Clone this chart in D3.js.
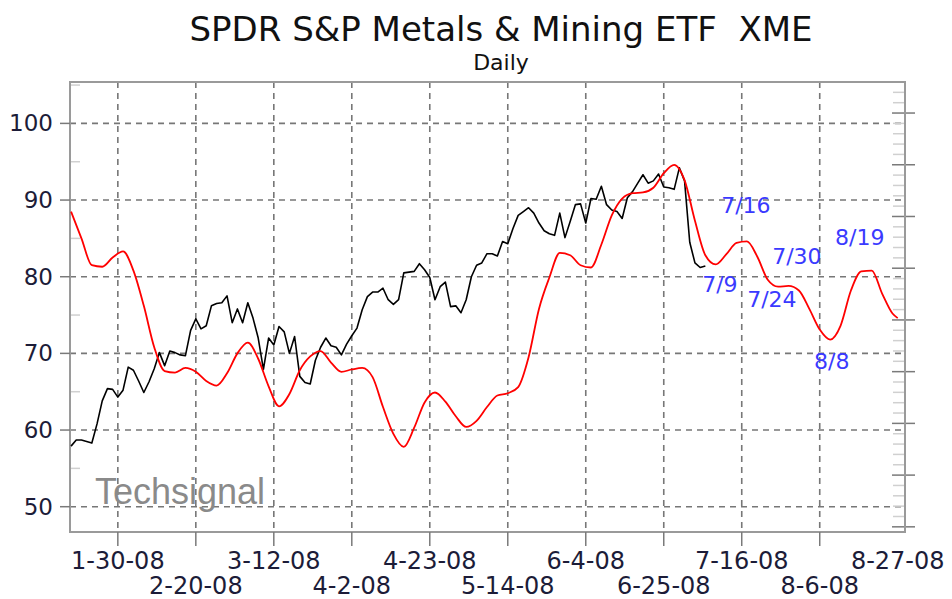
<!DOCTYPE html>
<html>
<head>
<meta charset="utf-8">
<script src="https://cdn.jsdelivr.net/npm/d3@7/dist/d3.min.js"></script>
<style>
  body { margin: 0; background: #fff; }
  text { font-family: "DejaVu Sans", Verdana, sans-serif; }
</style>
</head>
<body>
<script>
// XME daily close, one value per trading day (day 0 = mid Jan 2008)
var closeValues = [
  57.9, 58.7, 58.7, 58.5, 58.3, 60.8, 63.8, 65.4, 65.3, 64.3,
  65.2, 68.2, 67.8, 66.4, 64.9, 66.3, 68.0, 70.1, 68.4, 70.3,
  70.1, 69.8, 69.7, 73.0, 74.5, 73.2, 73.6, 76.2, 76.5, 76.6,
  77.5, 74.0, 75.8, 74.0, 76.6, 74.6, 72.0, 67.9, 72.0, 71.1,
  73.5, 72.8, 70.0, 72.2, 67.0, 66.2, 66.0, 69.1, 70.8, 72.0,
  71.0, 70.8, 69.8, 71.2, 72.3, 73.3, 75.7, 77.4, 78.0, 78.0,
  78.5, 77.0, 76.4, 77.0, 80.5, 80.6, 80.7, 81.7, 80.9, 79.9,
  77.0, 78.7, 79.3, 76.1, 76.2, 75.3, 77.0, 80.0, 81.5, 81.8,
  83.0, 83.0, 82.7, 84.6, 84.3, 86.3, 88.0, 88.5, 89.0, 88.3,
  87.0, 86.0, 85.6, 85.4, 88.3, 85.1, 87.2, 89.4, 89.5, 87.0,
  90.2, 90.1, 91.8, 89.4, 88.7, 88.5, 87.6, 90.3, 91.1, 92.2,
  93.3, 92.2, 92.5, 93.4, 91.7, 91.6, 91.4, 94.2, 92.5, 84.5,
  81.8, 81.2, 81.4
];

// cycle line (red), read every 2nd trading day
var cycleDays = [
  0, 2, 4, 6, 8, 10, 12, 14, 16, 18, 20, 22, 24, 26, 28, 30, 32, 34, 36, 38,
  40, 42, 44, 46, 48, 50, 52, 54, 56, 58, 60, 62, 64, 66, 68, 70, 72, 74, 76, 78,
  80, 82, 84, 86, 88, 90, 92, 94, 96, 98, 100, 102, 104, 106, 108, 110, 112, 114, 116, 118,
  120, 122, 124, 126, 128, 130, 132, 134, 136, 138, 140, 142, 144, 146, 148, 150, 152, 154, 156, 158, 159
];
var cycleValues = [
  88.5, 85.0, 81.5, 81.3, 82.5, 83.3, 80.8, 76.2, 70.8, 67.7, 67.5, 68.1, 67.6, 66.4, 65.8, 67.4, 70.0, 71.4, 69.3, 65.7,
  63.1, 64.7, 67.8, 69.6, 70.3, 68.8, 67.6, 67.9, 68.1, 66.9, 63.0, 59.5, 57.8, 60.3, 63.6, 64.9, 63.7, 61.8, 60.4, 61.2,
  63.0, 64.5, 64.8, 65.6, 69.5, 75.8, 79.9, 83.1, 82.8, 81.5, 81.2, 84.2, 88.0, 90.2, 90.9, 91.0, 91.6, 93.5, 94.6, 92.6,
  87.3, 82.8, 81.6, 82.9, 84.4, 84.6, 82.6, 79.6, 78.7, 78.8, 78.2, 75.8, 73.1, 71.8, 73.6, 78.2, 80.7, 80.8, 77.8, 75.2, 74.6
];

var tickDays   = [9, 24, 39, 54, 69, 84, 99, 114, 129, 144, 159];
var tickLabels = ["1-30-08", "2-20-08", "3-12-08", "4-2-08", "4-23-08", "5-14-08",
                  "6-4-08", "6-25-08", "7-16-08", "8-6-08", "8-27-08"];
var priceTicks = [50, 60, 70, 80, 90, 100];

// blue cycle date notes
var noteLabels = ["7/9", "7/16", "7/24", "7/30", "8/8", "8/19"];
var noteDays   = [124.8, 129.8, 134.8, 139.6, 146.3, 151.7];
var notePrices = [78.0, 88.3, 76.1, 81.6, 67.9, 84.2];

var W = 952, H = 599;
var plot = {left: 70, right: 905, top: 82, bottom: 532};

var svg = d3.select("body").append("svg")
    .attr("width", W)
    .attr("height", H);

var x = d3.scaleLinear().domain([-0.2, 160.4]).range([plot.left, plot.right]);
var y = d3.scaleLinear().domain([46.7, 105.4]).range([plot.bottom, plot.top]);
// unlabelled scale on the right side
var yRight = d3.scaleLinear().domain([-4.1, 4.6]).range([plot.bottom, plot.top]);

// titles
svg.append("text")
    .attr("x", 501).attr("y", 41)
    .attr("text-anchor", "middle")
    .style("font-size", "34px")
    .style("white-space", "pre")
    .attr("fill", "#111")
    .text("SPDR S&P Metals & Mining ETF  XME");
svg.append("text")
    .attr("x", 501).attr("y", 70)
    .attr("text-anchor", "middle")
    .style("font-size", "22px")
    .attr("fill", "#111")
    .text("Daily");

// grid
var gridDays = tickDays.filter(function(d) { return d < 158; });
svg.append("g").selectAll("line").data(gridDays).enter().append("line")
    .attr("x1", function(d) { return x(d); })
    .attr("x2", function(d) { return x(d); })
    .attr("y1", plot.top).attr("y2", plot.bottom)
    .attr("stroke", "#777").attr("stroke-width", 1.6)
    .attr("stroke-dasharray", "6,5");
svg.append("g").selectAll("line").data(priceTicks).enter().append("line")
    .attr("x1", plot.left).attr("x2", plot.right)
    .attr("y1", function(d) { return y(d); })
    .attr("y2", function(d) { return y(d); })
    .attr("stroke", "#777").attr("stroke-width", 1.6)
    .attr("stroke-dasharray", "6,5");

// minor ticks left (every 5)
svg.append("g").selectAll("line").data([55, 65, 75, 85, 95, 105]).enter().append("line")
    .attr("x1", plot.left).attr("x2", plot.left + 10)
    .attr("y1", function(d) { return y(d); })
    .attr("y2", function(d) { return y(d); })
    .attr("stroke", "#d0d0d0").attr("stroke-width", 1.5);

// right axis ticks
var rightMinor = d3.range(-4, 4.61, 0.2).filter(function(d) { return Math.abs(d - Math.round(d)) > 0.01; });
svg.append("g").selectAll("line").data(rightMinor).enter().append("line")
    .attr("x1", plot.right - 12).attr("x2", plot.right)
    .attr("y1", function(d) { return yRight(d); })
    .attr("y2", function(d) { return yRight(d); })
    .attr("stroke", "#d0d0d0").attr("stroke-width", 1.5);
svg.append("g").selectAll("line").data(d3.range(-4, 5, 1)).enter().append("line")
    .attr("x1", plot.right - 13).attr("x2", plot.right + 10)
    .attr("y1", function(d) { return yRight(d); })
    .attr("y2", function(d) { return yRight(d); })
    .attr("stroke", "#7a7a7a").attr("stroke-width", 1.5);

// frame
svg.append("rect")
    .attr("x", plot.left).attr("y", plot.top)
    .attr("width", plot.right - plot.left)
    .attr("height", plot.bottom - plot.top)
    .attr("fill", "none")
    .attr("stroke", "#9a9a9a").attr("stroke-width", 2);

// left axis
svg.append("g").selectAll("line").data(priceTicks).enter().append("line")
    .attr("x1", plot.left - 10).attr("x2", plot.left)
    .attr("y1", function(d) { return y(d); })
    .attr("y2", function(d) { return y(d); })
    .attr("stroke", "#7a7a7a").attr("stroke-width", 1.5);
svg.append("g").selectAll("text").data(priceTicks).enter().append("text")
    .attr("x", 53)
    .attr("y", function(d) { return y(d) + 8; })
    .attr("text-anchor", "end")
    .style("font-size", "23px")
    .attr("fill", "#1c1c38")
    .text(function(d) { return d; });

// bottom axis
svg.append("g").selectAll("line").data(gridDays).enter().append("line")
    .attr("x1", function(d) { return x(d); })
    .attr("x2", function(d) { return x(d); })
    .attr("y1", plot.bottom).attr("y2", plot.bottom + 14)
    .attr("stroke", "#7a7a7a").attr("stroke-width", 1.5);
svg.append("g").selectAll("text").data(tickDays).enter().append("text")
    .attr("x", function(d) { return x(d); })
    .attr("y", function(d, i) { return i % 2 === 0 ? 569 : 594; })
    .attr("text-anchor", "middle")
    .style("font-size", "24px")
    .attr("fill", "#1c1c38")
    .text(function(d, i) { return tickLabels[i]; });

// watermark
svg.append("text")
    .attr("x", x(4.6)).attr("y", y(50.4))
    .style("font-family", "'Liberation Sans', Arial, sans-serif")
    .style("font-size", "36px")
    .attr("fill", "#8a8a8a")
    .text("Techsignal");

// price line
var closeLine = d3.line()
    .x(function(d, i) { return x(i); })
    .y(function(d) { return y(d); });
svg.append("path")
    .datum(closeValues)
    .attr("d", closeLine)
    .attr("fill", "none")
    .attr("stroke", "#000")
    .attr("stroke-width", 1.6)
    .attr("stroke-linejoin", "round");

// cycle line
var cycleLine = d3.line()
    .x(function(d, i) { return x(cycleDays[i]); })
    .y(function(d) { return y(d); })
    .curve(d3.curveMonotoneX);
svg.append("path")
    .datum(cycleValues)
    .attr("d", cycleLine)
    .attr("fill", "none")
    .attr("stroke", "#ff0000")
    .attr("stroke-width", 1.8);

// notes
svg.append("g").selectAll("text").data(noteLabels).enter().append("text")
    .attr("x", function(d, i) { return x(noteDays[i]); })
    .attr("y", function(d, i) { return y(notePrices[i]); })
    .attr("text-anchor", "middle")
    .style("font-size", "22px")
    .attr("fill", "#3a3aff")
    .text(function(d) { return d; });
</script>
</body>
</html>
